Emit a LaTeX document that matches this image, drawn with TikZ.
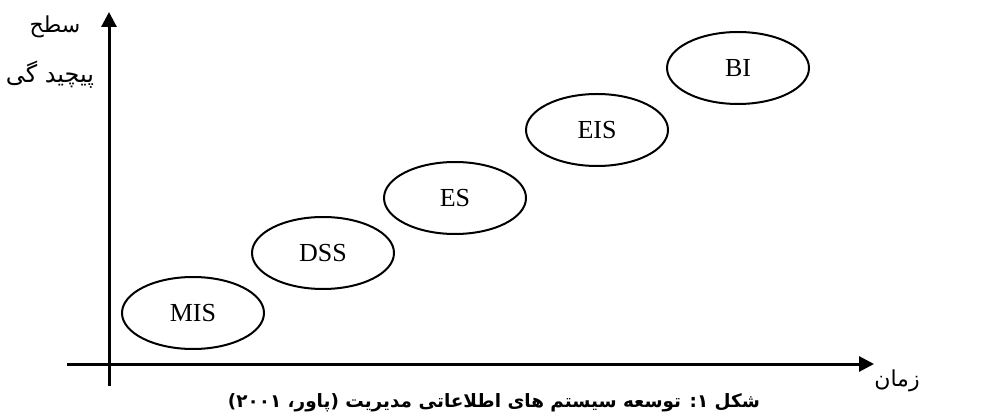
\documentclass[tikz,border=0pt]{standalone}
\usepackage{fontspec}
\usetikzlibrary{shapes.geometric,arrows.meta}
\setmainfont{Liberation Serif}
\newfontfamily\arabicfont[Script=Arabic]{DejaVu Sans}
\TeXXeTstate=1

\begin{document}
\begin{tikzpicture}
  [x=0.5pt,y=-0.5pt,
   sys/.style={ellipse,draw,line width=1pt,minimum width=71pt,minimum height=36pt,inner sep=0pt,font=\fontsize{13}{15}\selectfont},
   axis/.style={line width=1.5pt,-{Triangle[length=7.5pt,width=7.5pt]}},
   lbl/.style={font=\arabicfont\fontsize{11}{13}\selectfont,inner sep=0pt}]
  \useasboundingbox (0,0) rectangle (994,416);

  \coordinate (ybot) at (109,386);
  \coordinate (ytop) at (109,12);
  \coordinate (xleft) at (67,364);
  \coordinate (xright) at (874,364);
  \draw[axis] (ybot) -- (ytop);
  \draw[axis] (xleft) -- (xright);

  \node[sys] (mis) at (193,313) {MIS};
  \node[sys] (dss) at (323,253) {DSS};
  \node[sys] (es)  at (455,198) {ES};
  \node[sys] (eis) at (597,130) {EIS};
  \node[sys] (bi)  at (738,68)  {BI};

  \node[lbl] (sath) at (55,27) {\beginR سطح\endR};
  \node[lbl,font=\arabicfont\fontsize{12}{14}\selectfont] (pich) at (50,75) {\beginR پیچید گی\endR};
  \node[lbl] (zaman) at (897,381) {\beginR زمان\endR};
  \node[lbl,font=\arabicfont\bfseries\fontsize{9.2}{11}\selectfont] (caption) at (494,403)
    {\beginR شکل ۱: توسعه سیستم های اطلاعاتی مدیریت (پاور، \beginL۲۰۰۱\endL)\endR};

\end{tikzpicture}
\end{document}
